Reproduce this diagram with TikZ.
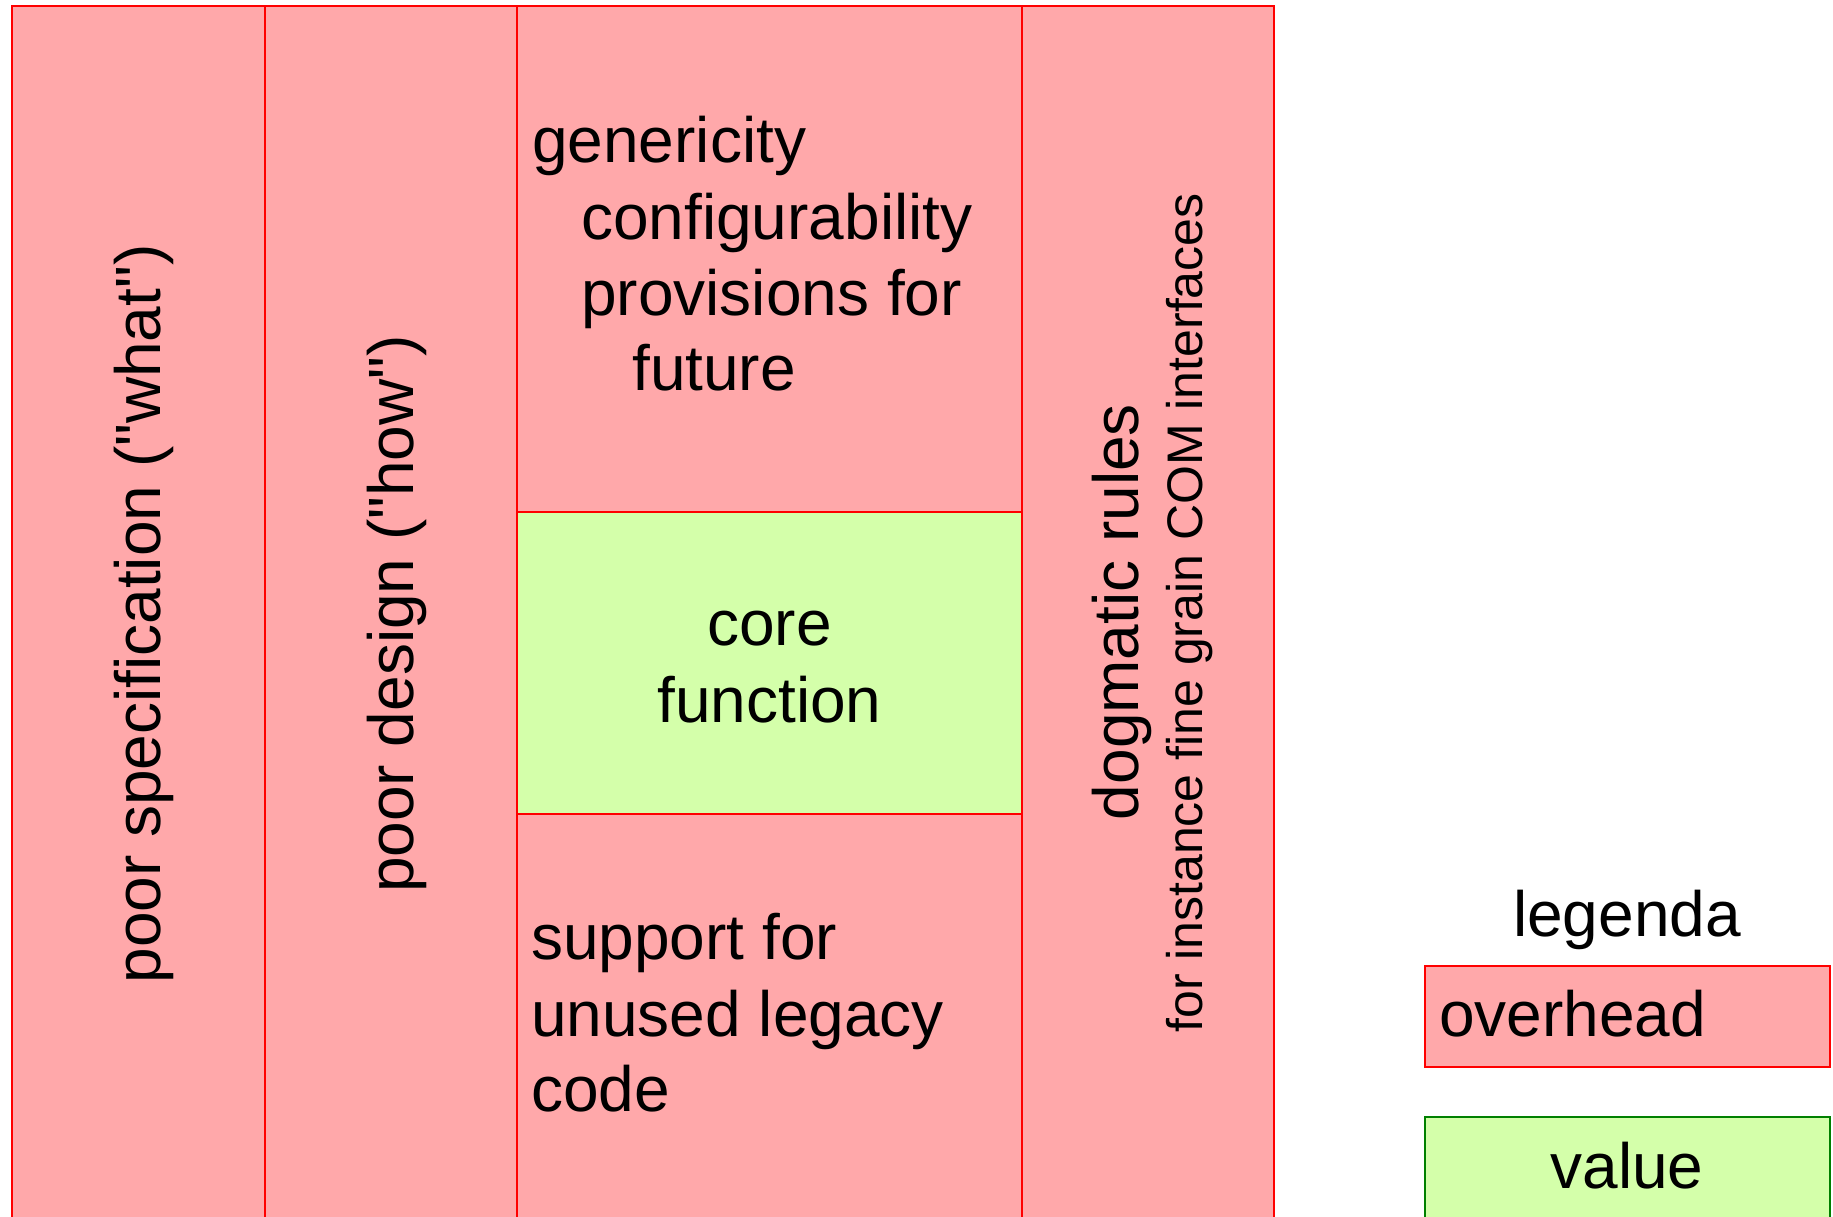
\documentclass[tikz,border=0pt]{standalone}
\usepackage{fontspec}
\setmainfont{Liberation Sans}[Ligatures=TeXOff]
\definecolor{pinkfill}{RGB}{255,168,170}
\definecolor{greenfill}{RGB}{212,255,170}
\definecolor{greenline}{RGB}{0,128,0}
\begin{document}
\begin{tikzpicture}[x=1pt,y=-1pt,
  blk/.style={rectangle, anchor=north west, inner sep=0pt, outer sep=0pt},
  over/.style={blk, draw=red, fill=pinkfill, line width=2.5pt},
  val/.style={blk, draw=red, fill=greenfill, line width=2.5pt},
  legover/.style={blk, draw=red, fill=pinkfill, line width=2pt},
  legval/.style={blk, draw=greenline, fill=greenfill, line width=2pt},
  big/.style={font=\fontsize{64}{76.8}\selectfont, inner sep=0pt, text=black},
  small/.style={font=\fontsize{50}{60}\selectfont, inner sep=0pt, text=black}]
\useasboundingbox (0,0) rectangle (1833,1217);
\clip (0,0) rectangle (1833,1217);
% main blocks
\node[over, minimum width=253pt, minimum height=1216pt] (spec) at (12,6) {};
\node[over, minimum width=252pt, minimum height=1216pt] (design) at (265,6) {};
\node[over, minimum width=505pt, minimum height=506pt] (top) at (517,6) {};
\node[over, minimum width=505pt, minimum height=408pt] (bottom) at (517,814) {};
\node[val, minimum width=505pt, minimum height=302pt] (core) at (517,512) {};
\node[over, minimum width=252pt, minimum height=1216pt] (dogma) at (1022,6) {};
% column texts
\node[big, rotate=90, anchor=base] (tspec) at (160,614) {poor specification ("what")};
\node[big, rotate=90, anchor=base] (tdesign) at (413,614) {poor design ("how")};
\node[big, rotate=90, anchor=base] (tdogma) at (1138,612) {dogmatic rules};
\node[small, rotate=90, anchor=base] (tdogma2) at (1202,613) {for instance fine grain COM interfaces};
% top block
\node[big, anchor=base west] (t1) at (532,163) {genericity};
\node[big, anchor=base west] (t2) at (581,239) {configurability};
\node[big, anchor=base west] (t3) at (581,315) {provisions for};
\node[big, anchor=base west] (t4) at (632,390) {future};
% core
\node[big, anchor=base] (c1) at (769.5,645) {core};
\node[big, anchor=base] (c2) at (769.5,722) {function};
% bottom block
\node[big, anchor=base west] (b1) at (531,959) {support for};
\node[big, anchor=base west] (b2) at (531,1036) {unused legacy};
\node[big, anchor=base west] (b3) at (531,1111) {code};
% legend
\node[big, anchor=base] (leg) at (1627,936) {legenda};
\node[legover, minimum width=405pt, minimum height=101pt] (lo) at (1425,966) {};
\node[big, anchor=base west] (lot) at (1439,1036) {overhead};
\node[legval, minimum width=405pt, minimum height=110pt] (lv) at (1425,1117) {};
\node[big, anchor=base] (lvt) at (1627,1188) {value};
\end{tikzpicture}
\end{document}
